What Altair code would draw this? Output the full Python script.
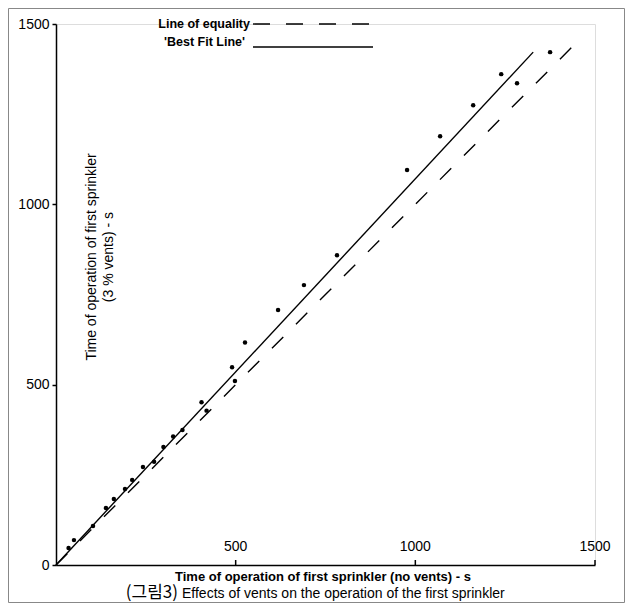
import altair as alt
import pandas as pd

# ---- data ----
no_vents = [35, 50, 103, 139, 161, 192, 212, 242, 273, 299, 326, 352, 405, 419,
            490, 498, 526, 618, 690, 782, 977, 1069, 1161, 1239, 1283, 1375]
vents_3pct = [47, 69, 108, 158, 183, 211, 236, 272, 286, 327, 356, 374, 451, 428,
              548, 510, 617, 707, 776, 859, 1095, 1189, 1275, 1361, 1336, 1422]
fit_x = [0, 1328]
fit_y = [0, 1422]
eq_x = [0, 1435]
eq_y = [0, 1435]
x_ticks = [500, 1000, 1500]
y_ticks = [0, 500, 1000, 1500]

legend_labels = ["Line of equality", "'Best Fit Line'"]
y_title = ["Time of operation of first sprinkler", "(3 % vents) - s"]
x_title = "Time of operation of first sprinkler (no vents) - s"
caption_tag = "(그림3)"
caption = "Effects of vents on the operation of the first sprinkler"

FONT = "Liberation Sans"
W, H = 539, 541

pts = pd.DataFrame({"x": no_vents, "y": vents_3pct})
fit = pd.DataFrame({"x": fit_x, "y": fit_y})
eq = pd.DataFrame({"x": eq_x, "y": eq_y})
xt = pd.DataFrame({"x": x_ticks, "label": [str(v) for v in x_ticks]})
one = pd.DataFrame({"a": [0]})

xs = alt.Scale(domain=[0, 1500], nice=False, zero=False)
ys = alt.Scale(domain=[0, 1500], nice=False, zero=False)

x_enc = alt.X("x:Q", scale=xs,
              axis=alt.Axis(labels=False, ticks=False, title=None, grid=False,
                            domainColor="black", domainWidth=1.5))
y_enc = alt.Y("y:Q", scale=ys,
              axis=alt.Axis(values=y_ticks, format="d", title=None, grid=False, tickSize=4,
                            tickColor="black", tickWidth=1.5, domainColor="black",
                            domainWidth=1.5, labelFontSize=14, labelColor="black",
                            labelPadding=3, labelFont=FONT))

points = alt.Chart(pts).mark_circle(size=20, color="black", opacity=1).encode(x=x_enc, y=y_enc)
fit_line = alt.Chart(fit).mark_line(color="black", strokeWidth=1.4).encode(x=x_enc, y=y_enc)
eq_line = alt.Chart(eq).mark_line(color="black", strokeWidth=1.4, strokeDash=[16, 18]).encode(x=x_enc, y=y_enc)

x_tick_rules = alt.Chart(xt).mark_rule(color="black", strokeWidth=1.5).encode(
    x=alt.X("x:Q", scale=xs), y=alt.value(H), y2=alt.value(H - 5))
x_tick_labels = alt.Chart(xt).mark_text(fontSize=14, font=FONT, color="black", baseline="middle").encode(
    x=alt.X("x:Q", scale=xs), y=alt.value(H - 18), text="label:N")

# legend
leg1 = alt.Chart(one).mark_text(fontSize=12.5, font=FONT, fontWeight="bold", align="right",
                                baseline="middle", color="black").encode(
    x=alt.value(194), y=alt.value(0), text=alt.value(legend_labels[0]))
leg2 = alt.Chart(one).mark_text(fontSize=12.5, font=FONT, fontWeight="bold", align="right",
                                baseline="middle", color="black").encode(
    x=alt.value(189), y=alt.value(18), text=alt.value(legend_labels[1]))
leg1_line = alt.Chart(one).mark_rule(color="black", strokeWidth=1.4, strokeDash=[17, 16]).encode(
    x=alt.value(197), x2=alt.value(317), y=alt.value(0))
leg2_line = alt.Chart(one).mark_rule(color="black", strokeWidth=1.4).encode(
    x=alt.value(197), x2=alt.value(317), y=alt.value(23))

# titles
yt1 = alt.Chart(one).mark_text(fontSize=14, font=FONT, angle=270, align="center",
                               baseline="middle", color="black").encode(
    x=alt.value(36), y=alt.value(233), text=alt.value(y_title[0]))
yt2 = alt.Chart(one).mark_text(fontSize=14, font=FONT, angle=270, align="center",
                               baseline="middle", color="black").encode(
    x=alt.value(53), y=alt.value(233), text=alt.value(y_title[1]))
xt_title = alt.Chart(one).mark_text(fontSize=13, font=FONT, fontWeight="bold", align="center",
                                    baseline="middle", color="black").encode(
    x=alt.value(267), y=alt.value(553), text=alt.value(x_title))
cap_tag = alt.Chart(one).mark_text(fontSize=17, font="Noto Sans CJK KR", align="right",
                                   baseline="middle", color="black").encode(
    x=alt.value(122), y=alt.value(569), text=alt.value(caption_tag))
cap = alt.Chart(one).mark_text(fontSize=14, font=FONT, align="left",
                               baseline="middle", color="black").encode(
    x=alt.value(126), y=alt.value(570), text=alt.value(caption))

frame = alt.Chart(one).mark_rect(fillOpacity=0, stroke="#888888", strokeWidth=1).encode(
    x=alt.value(-47.5), x2=alt.value(568.5), y=alt.value(-15.5), y2=alt.value(578.5))

chart = alt.layer(
    eq_line, fit_line, points, x_tick_rules, x_tick_labels,
    leg1, leg2, leg1_line, leg2_line, yt1, yt2, xt_title, cap_tag, cap, frame
).properties(
    width=W, height=H,
    padding={"left": 48, "top": 16, "right": 30, "bottom": 38},
    autosize=alt.AutoSizeParams(type="none"),
).configure_view(strokeWidth=0).configure(font=FONT)

chart.save("out.html", embed_options={"renderer": "svg", "actions": False})
